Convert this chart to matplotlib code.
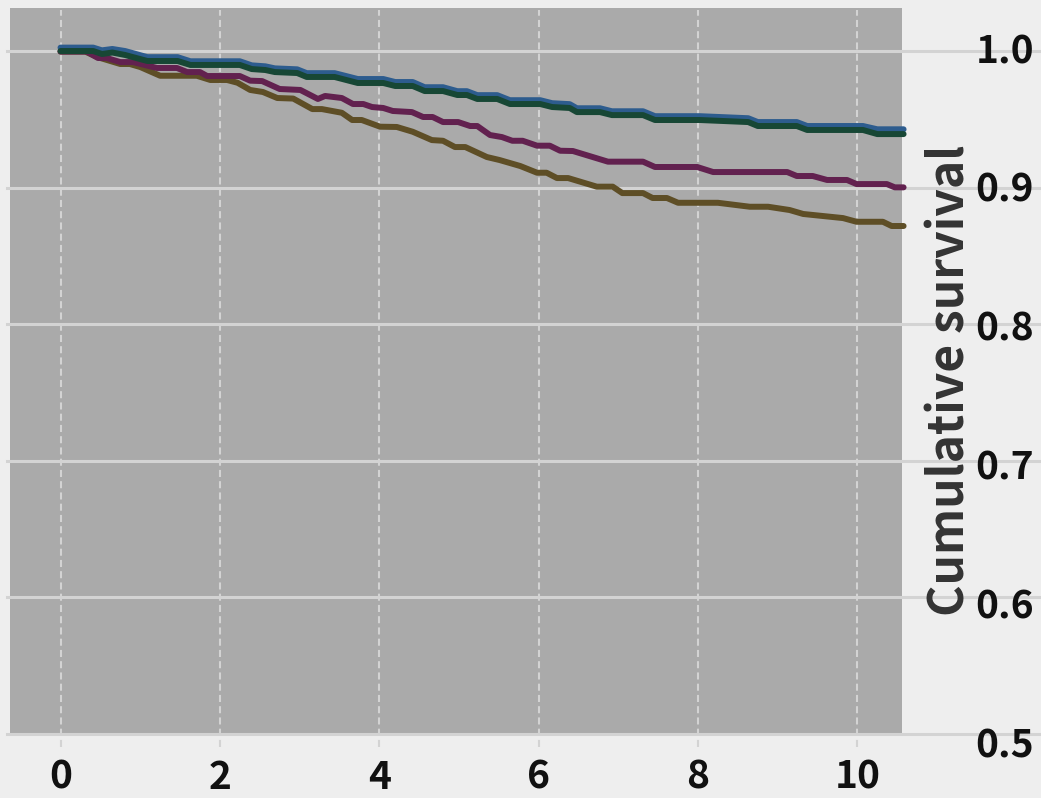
import matplotlib
matplotlib.use("Agg")
import matplotlib.pyplot as plt

# ---- data ----
green_x = [0, 0.41, 0.52, 0.65, 0.81, 1.09, 1.47, 1.63, 2.25, 2.40, 2.57, 2.69, 2.97, 3.09, 3.44,
           3.73, 4.05, 4.20, 4.42, 4.57, 4.80, 4.98, 5.10, 5.23, 5.48, 5.64, 6.02, 6.17, 6.39, 6.48,
           6.77, 6.92, 7.31, 7.46, 8.02, 8.63, 8.75, 9.24, 9.37, 10.07, 10.25, 10.58]
green_y = [1.0, 1.0, 0.9978, 0.9989, 0.9971, 0.9927, 0.9927, 0.9898, 0.9898, 0.9868, 0.9861, 0.9846,
           0.9839, 0.9810, 0.9810, 0.9766, 0.9766, 0.9744, 0.9744, 0.9707, 0.9707, 0.9678, 0.9678,
           0.9649, 0.9649, 0.9612, 0.9612, 0.9590, 0.9583, 0.9553, 0.9553, 0.9531, 0.9531, 0.9495,
           0.9495, 0.9480, 0.9451, 0.9451, 0.9422, 0.9422, 0.9392, 0.9392]

blue_x = green_x
blue_y = [1.0025, 1.0025, 1.0005, 1.0015, 1.0, 0.9955, 0.9955, 0.9925, 0.9925, 0.9895, 0.9888, 0.9873,
          0.9866, 0.9838, 0.9838, 0.9795, 0.9795, 0.9773, 0.9773, 0.9735, 0.9735, 0.9706, 0.9706,
          0.9677, 0.9677, 0.9640, 0.9640, 0.9618, 0.9611, 0.9581, 0.9581, 0.9559, 0.9559, 0.9523,
          0.9523, 0.9508, 0.9480, 0.9480, 0.9451, 0.9451, 0.9427, 0.9427]

purple_x = [0, 0.33, 0.47, 0.58, 0.75, 0.91, 1.21, 1.46, 1.59, 1.75, 1.84, 2.25, 2.38, 2.53, 2.75,
            3.01, 3.23, 3.32, 3.53, 3.67, 3.80, 3.91, 4.05, 4.17, 4.41, 4.55, 4.67, 4.80, 4.99, 5.14,
            5.23, 5.39, 5.54, 5.67, 5.80, 5.98, 6.14, 6.27, 6.43, 6.87, 7.31, 7.46, 7.99, 8.19, 9.12,
            9.24, 9.44, 9.62, 9.87, 9.99, 10.37, 10.47, 10.58]
purple_y = [0.9996, 0.9996, 0.9949, 0.9949, 0.9919, 0.9919, 0.9876, 0.9876, 0.9846, 0.9846,
            0.9817, 0.9817, 0.9783, 0.9780, 0.9722, 0.9715, 0.9649, 0.9671, 0.9656, 0.9612,
            0.9612, 0.9590, 0.9583, 0.9561, 0.9553, 0.9517, 0.9517, 0.9480, 0.9480, 0.9451,
            0.9451, 0.9385, 0.9370, 0.9343, 0.9343, 0.9307, 0.9307, 0.9270, 0.9268, 0.9190,
            0.9190, 0.9151, 0.9151, 0.9114, 0.9114, 0.9085, 0.9085, 0.9056, 0.9056, 0.9026,
            0.9026, 0.9002, 0.9002]

olive_x = [0, 0.31, 0.46, 0.75, 0.87, 1.00, 1.25, 1.71, 1.88, 2.09, 2.22, 2.38, 2.54, 2.72, 2.92,
           3.16, 3.28, 3.53, 3.66, 3.78, 4.01, 4.22, 4.42, 4.66, 4.80, 4.95, 5.08, 5.35, 5.51, 5.77,
           5.98, 6.10, 6.23, 6.37, 6.73, 6.93, 7.05, 7.31, 7.43, 7.61, 7.75, 8.25, 8.65, 8.88, 9.15,
           9.32, 9.82, 9.99, 10.32, 10.43, 10.58]
olive_y = [0.9996, 0.9996, 0.9956, 0.9905, 0.9905, 0.9883, 0.9819, 0.9819, 0.9788, 0.9788,
           0.9768, 0.9715, 0.9700, 0.9656, 0.9652, 0.9575, 0.9575, 0.9548, 0.9495, 0.9495,
           0.9446, 0.9444, 0.9409, 0.9348, 0.9343, 0.9297, 0.9297, 0.9224, 0.9202, 0.9158,
           0.9109, 0.9109, 0.9070, 0.9070, 0.9007, 0.9007, 0.8960, 0.8960, 0.8924, 0.8924,
           0.8889, 0.8889, 0.8860, 0.8860, 0.8836, 0.8807, 0.8777, 0.8750, 0.8750, 0.8719,
           0.8719]

x_ticks = [0, 2, 4, 6, 8, 10]
y_ticks = [0.5, 0.6, 0.7, 0.8, 0.9, 1.0]
y_label = "Cumulative survival"

# ---- style ----
FONT = ["Noto Sans CJK SC", "DejaVu Sans"]
plt.rcParams["font.family"] = FONT
fig_bg = "#eeeeee"
ax_bg = "#aaaaaa"
grid_c = "#d3d3d3"
W, H = 1041, 798

fig = plt.figure(figsize=(W / 100, H / 100), dpi=100, facecolor=fig_bg)
ax = fig.add_axes([10 / W, 1 - 734 / H, 892 / W, 726 / H])
ax.set_facecolor(ax_bg)
ax.set_xlim(-0.634, 10.56)
ax.set_ylim(0.5, 1.0315)
for s in ax.spines.values():
    s.set_visible(False)
ax.set_axisbelow(True)

# horizontal grid lines extending to the right edge of the figure
for v in y_ticks:
    ax.axhline(v, xmin=-0.003, xmax=1.2, color=grid_c, lw=2.2, clip_on=False, zorder=0.4)
# vertical dashed grid lines slightly extending below the axes
for v in x_ticks:
    ax.axvline(v, ymin=-0.018, ymax=0.997, color=grid_c, lw=1.5, ls=(0, (3.4, 2.0)),
               clip_on=False, zorder=0.4)

lw = 4.3
ax.plot(olive_x, olive_y, color="#5e4e26", lw=lw, solid_capstyle="round", clip_on=False, zorder=3)
ax.plot(purple_x, purple_y, color="#62214f", lw=lw, solid_capstyle="round", clip_on=False, zorder=3)
ax.plot(blue_x, blue_y, color="#2d5c8e", lw=lw, solid_capstyle="round", clip_on=False, zorder=3)
ax.plot(green_x, green_y, color="#174735", lw=lw, solid_capstyle="round", clip_on=False, zorder=3)

ax.set_xticks(x_ticks)
ax.set_xticklabels([str(t) for t in x_ticks], fontsize=28, fontweight="bold", color="#111111")
ax.set_yticks([])
ax.tick_params(axis="x", length=0, pad=17)

# y tick labels on the right, on a slightly differently scaled label axis (as in the reference)
ax2 = fig.add_axes([10 / W, 1 - 742 / H, 892 / W, (742 - 47.5) / H], sharex=None)
ax2.patch.set_visible(False)
ax2.set_xticks([])
for s in ax2.spines.values():
    s.set_visible(False)
ax2.yaxis.tick_right()
ax2.set_yticks(y_ticks)
ax2.set_ylim(0.5, 1.0)
ax2.set_yticklabels([f"{t:.1f}" for t in y_ticks], fontsize=28, fontweight="bold", color="#111111",
                    ha="right")
ax2.tick_params(axis="y", length=0, pad=95)

fig.text(950 / W, 1 - 380 / H, y_label, rotation=90, ha="center", va="center",
         fontsize=34.5, fontweight="bold", color="#333333")

fig.savefig("out.png", dpi=100, facecolor=fig_bg)
